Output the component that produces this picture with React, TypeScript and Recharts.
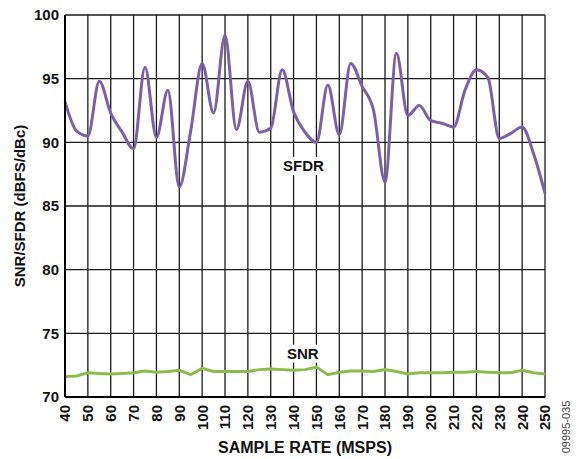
import React from "react";
import {
  LineChart,
  Line,
  XAxis,
  YAxis,
  CartesianGrid,
  ReferenceDot,
} from "recharts";

const sampleRates = [
  40, 45, 50, 55, 60, 65, 70, 75, 80, 85, 90, 95, 100, 105, 110, 115, 120, 125,
  130, 135, 140, 145, 150, 155, 160, 165, 170, 175, 180, 185, 190, 195, 200,
  205, 210, 215, 220, 225, 230, 235, 240, 245, 250,
];

const sfdr = [
  93.2, 90.9, 90.5, 94.8, 92.3, 90.8, 89.5, 95.9, 90.4, 94.1, 86.5, 90.9, 96.2,
  92.3, 98.4, 91.0, 94.8, 90.8, 91.1, 95.7, 92.4, 90.8, 90.0, 94.5, 90.6, 96.2,
  94.4, 92.5, 86.9, 97.0, 92.1, 92.9, 91.7, 91.5, 91.2, 94.1, 95.7, 95.1, 90.3,
  90.7, 91.2, 89.1, 86.0,
];

const snr = [
  71.6, 71.65, 71.9, 71.85, 71.8, 71.85, 71.9, 72.05, 71.95, 72.0, 72.1, 71.75,
  72.25, 72.0, 72.0, 72.0, 72.0, 72.15, 72.2, 72.15, 72.1, 72.15, 72.35, 71.75,
  71.95, 72.05, 72.05, 72.0, 72.15, 72.0, 71.8, 71.9, 71.9, 71.9, 71.95, 71.95,
  72.0, 71.95, 71.9, 71.9, 72.1, 71.9, 71.8,
];

const xTicks = [
  40, 50, 60, 70, 80, 90, 100, 110, 120, 130, 140, 150, 160, 170, 180, 190, 200,
  210, 220, 230, 240, 250,
];
const yTicks = [70, 75, 80, 85, 90, 95, 100];

const xTitle = "SAMPLE RATE (MSPS)";
const yTitle = "SNR/SFDR (dBFS/dBc)";
const sfdrLabel = { x: 144.3, y: 88.15, text: "SFDR" };
const snrLabel = { x: 144.0, y: 73.4, text: "SNR" };
const figureId = "09995-035";

const data = sampleRates.map((r, i) => ({ rate: r, sfdr: sfdr[i], snr: snr[i] }));

const FONT = "'Liberation Sans', Arial, Helvetica, sans-serif";
const SFDR_COLOR = "#7c5fa7";
const SNR_COLOR = "#8dbb4b";

const XTick = (props: any) => {
  const { x, y, payload } = props;
  const ty = y;
  return (
    <text
      x={x}
      y={ty}
      transform={`rotate(-90, ${x}, ${ty})`}
      textAnchor="end"
      dy="0.36em"
      fontFamily={FONT}
      fontWeight="bold"
      fontSize={15}
      fill="#111"
    >
      {payload.value}
    </text>
  );
};

const YTick = (props: any) => {
  const { x, y, payload } = props;
  return (
    <text
      x={x}
      y={y}
      textAnchor="end"
      dy="0.36em"
      fontFamily={FONT}
      fontWeight="bold"
      fontSize={15}
      fill="#111"
    >
      {payload.value}
    </text>
  );
};

const YTitle = (props: any) => {
  const { viewBox } = props;
  const cx = viewBox.x + 20;
  const cy = viewBox.y + viewBox.height / 2;
  return (
    <text
      x={cx}
      y={cy}
      transform={`rotate(-90, ${cx}, ${cy})`}
      textAnchor="middle"
      dy="0.36em"
      fontFamily={FONT}
      fontWeight="bold"
      fontSize={15}
      fill="#111"
    >
      {yTitle}
    </text>
  );
};

const XTitle = (props: any) => {
  const { viewBox } = props;
  const cx = viewBox.x + viewBox.width / 2;
  const cy = viewBox.y + 50;
  return (
    <text
      x={cx}
      y={cy}
      textAnchor="middle"
      dy="0.36em"
      fontFamily={FONT}
      fontWeight="bold"
      fontSize={16}
      fill="#111"
    >
      {xTitle}
    </text>
  );
};

const makeBoxLabel = (text: string, w: number, h: number) => (props: any) => {
  const { cx, cy } = props;
  return (
    <g>
      <rect x={cx - w / 2} y={cy - h / 2} width={w} height={h} fill="#fff" />
      <text
        x={cx}
        y={cy}
        textAnchor="middle"
        dy="0.36em"
        fontFamily={FONT}
        fontWeight="bold"
        fontSize={15}
        fill="#111"
      >
        {text}
      </text>
    </g>
  );
};

export default function App() {
  return (
    <div style={{ position: "absolute", left: 0, top: 0, width: 585, height: 459, background: "#fff" }}>
      <LineChart
        width={585}
        height={459}
        data={data}
        margin={{ top: 15, right: 40, bottom: 0, left: 0 }}
      >
        <CartesianGrid stroke="#1a1a1a" strokeWidth={1.3} />
        <XAxis
          dataKey="rate"
          type="number"
          domain={[40, 250]}
          ticks={xTicks}
          interval={0}
          height={62}
          tick={<XTick />}
          tickLine={false}
          tickSize={0}
          tickMargin={8}
          axisLine={{ stroke: "#000", strokeWidth: 2 }}
          label={<XTitle />}
        />
        <YAxis
          type="number"
          domain={[70, 100]}
          ticks={yTicks}
          interval={0}
          width={65}
          tick={<YTick />}
          tickLine={false}
          tickSize={0}
          tickMargin={6}
          axisLine={{ stroke: "#000", strokeWidth: 2 }}
          label={<YTitle />}
        />
        <Line
          type="monotone"
          dataKey="sfdr"
          stroke={SFDR_COLOR}
          strokeWidth={3}
          dot={false}
          isAnimationActive={false}
        />
        <Line
          type="linear"
          dataKey="snr"
          stroke={SNR_COLOR}
          strokeWidth={3}
          dot={false}
          isAnimationActive={false}
        />
        <ReferenceDot
          x={sfdrLabel.x}
          y={sfdrLabel.y}
          r={0}
          shape={makeBoxLabel(sfdrLabel.text, 46, 18)}
        />
        <ReferenceDot
          x={snrLabel.x}
          y={snrLabel.y}
          r={0}
          shape={makeBoxLabel(snrLabel.text, 36, 18)}
        />
      </LineChart>
      <div
        style={{
          position: "absolute",
          left: 566,
          top: 427,
          transform: "translate(-50%, -50%) rotate(-90deg)",
          fontFamily: FONT,
          fontSize: 11,
          color: "#444",
          whiteSpace: "nowrap",
        }}
      >
        {figureId}
      </div>
    </div>
  );
}
